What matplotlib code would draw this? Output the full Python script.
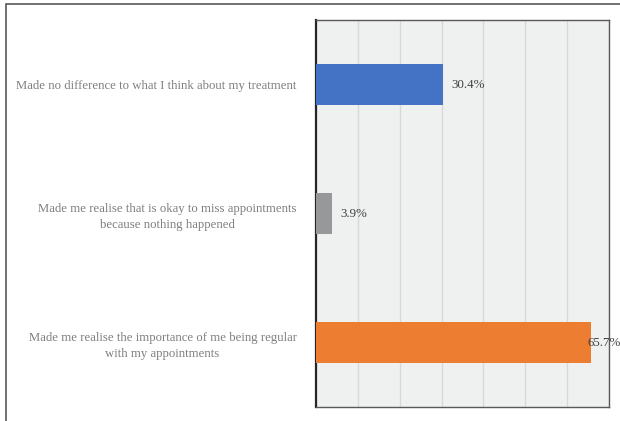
import matplotlib.pyplot as plt
from matplotlib.patches import Rectangle

# --- Data ---
categories = [
    "Made no difference to what I think about my treatment",
    "Made me realise that is okay to miss appointments\nbecause nothing happened",
    "Made me realise the importance of me being regular\nwith my appointments",
]
percentages = [30.4, 3.9, 65.7]
bar_colors = ["#4472C4", "#97989A", "#ED7D31"]

plt.rcParams['font.family'] = ['Liberation Serif', 'DejaVu Serif']

fig = plt.figure(figsize=(6.2, 4.21), dpi=100)
ax = fig.add_axes([316 / 620, 1 - 407 / 421, 293 / 620, 387 / 421])

# outer frame around the whole chart (open at right / bottom)
fig.patches.append(Rectangle((6 / 620, -0.05), 1.1, 1 - 4 / 421 + 0.05,
                             transform=fig.transFigure, fill=False,
                             edgecolor="#595959", linewidth=1.2))

ypos = list(range(len(categories)))
ax.barh(ypos, percentages, height=0.32, color=bar_colors, zorder=3)

XMAX = 70
for y, v in zip(ypos, percentages):
    # labels near the right edge get pulled back onto the bar end
    lx = v + 2.0 if v + 2.0 < XMAX - 7 else v - 0.8
    ax.text(lx, y, f"{v}%", va="center", ha="left",
            fontsize=9.3, color="#404040", zorder=4)

ax.set_xlim(0, XMAX)
ax.set_ylim(2.5, -0.5)
ax.set_facecolor("#EFF0F0")
ax.set_xticks(range(0, XMAX + 1, 10))
ax.set_xticklabels([])
ax.tick_params(axis="x", length=0)
ax.grid(axis="x", color="#D9D9D9", linewidth=1.0, zorder=0)

ax.set_yticks(ypos)
ax.set_yticklabels(categories, fontsize=9.15, color="#7F7F7F",
                   multialignment="center", linespacing=1.45)
ax.tick_params(axis="y", length=0, pad=14)

for side in ["top", "right", "bottom"]:
    ax.spines[side].set_color("#595959")
    ax.spines[side].set_linewidth(1.0)
ax.spines["left"].set_color("#262626")
ax.spines["left"].set_linewidth(1.6)

fig.savefig("out.png", dpi=100)
